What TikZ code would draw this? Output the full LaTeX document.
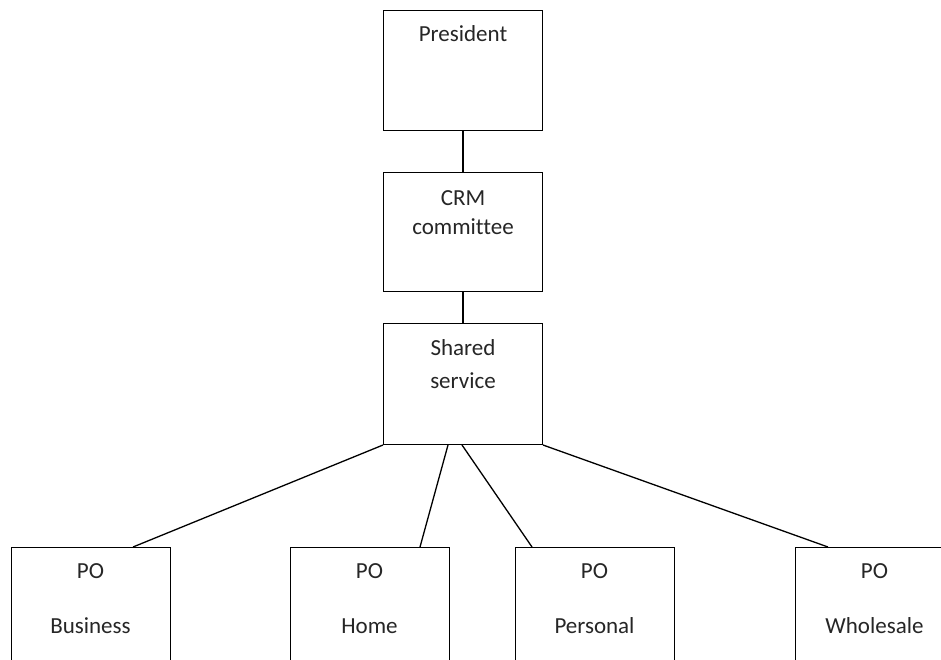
\documentclass[tikz,border=0pt]{standalone}
\usepackage{fontspec}
\setmainfont[Ligatures={NoCommon}]{Carlito}
\begin{document}
\begin{tikzpicture}[x=1pt,y=-1pt,
  unit/.style={draw=black, line width=1pt, minimum width=159pt, minimum height=120pt, inner sep=0pt, anchor=north west},
  caption/.style={anchor=base, font=\fontsize{23}{28}\selectfont, text=black!85, inner sep=0pt},
  trunk/.style={line width=2pt},
  branch/.style={line width=1.3pt}]
  \clip (0,0) rectangle (941,659);
  \fill[white] (0,0) rectangle (941,659);

  % management chain
  \node[unit] (pres) at (383,10) {};
  \node[unit, minimum height=119pt] (crm) at (383,172) {};
  \node[unit, minimum height=121pt] (shared) at (383,323) {};

  % product owners (boxes run past the lower edge)
  \node[unit, minimum height=130pt] (biz) at (11,547) {};
  \node[unit, minimum height=130pt] (home) at (290,547) {};
  \node[unit, minimum height=130pt] (pers) at (515,547) {};
  \node[unit, minimum height=130pt] (whole) at (795,547) {};

  % captions
  \node[caption] (presT) at (463,41) {President};
  \node[caption] (crmT1) at (463,205) {CRM};
  \node[caption] (crmT2) at (463,234) {committee};
  \node[caption] (shT1) at (463,355) {Shared};
  \node[caption] (shT2) at (463,388) {service};
  \node[caption] (bizT1) at (90.5,578) {PO};
  \node[caption] (bizT2) at (90.5,633) {Business};
  \node[caption] (homeT1) at (369.5,578) {PO};
  \node[caption] (homeT2) at (369.5,633) {Home};
  \node[caption] (persT1) at (594.5,578) {PO};
  \node[caption] (persT2) at (594.5,633) {Personal};
  \node[caption] (wholeT1) at (874.5,578) {PO};
  \node[caption] (wholeT2) at (874.5,633) {Wholesale};

  % links
  \draw[trunk] ([xshift=79.5pt]pres.south west) -- ([xshift=79.5pt]crm.north west);
  \draw[trunk] ([xshift=79.5pt]crm.south west) -- ([xshift=79.5pt]shared.north west);
  \draw[branch] (shared.south west) -- ([xshift=122pt]biz.north west);
  \draw[branch] ([xshift=65pt]shared.south west) -- ([xshift=130pt]home.north west);
  \draw[branch] ([xshift=79pt]shared.south west) -- ([xshift=17pt]pers.north west);
  \draw[branch] (shared.south east) -- ([xshift=33pt]whole.north west);
\end{tikzpicture}
\end{document}
